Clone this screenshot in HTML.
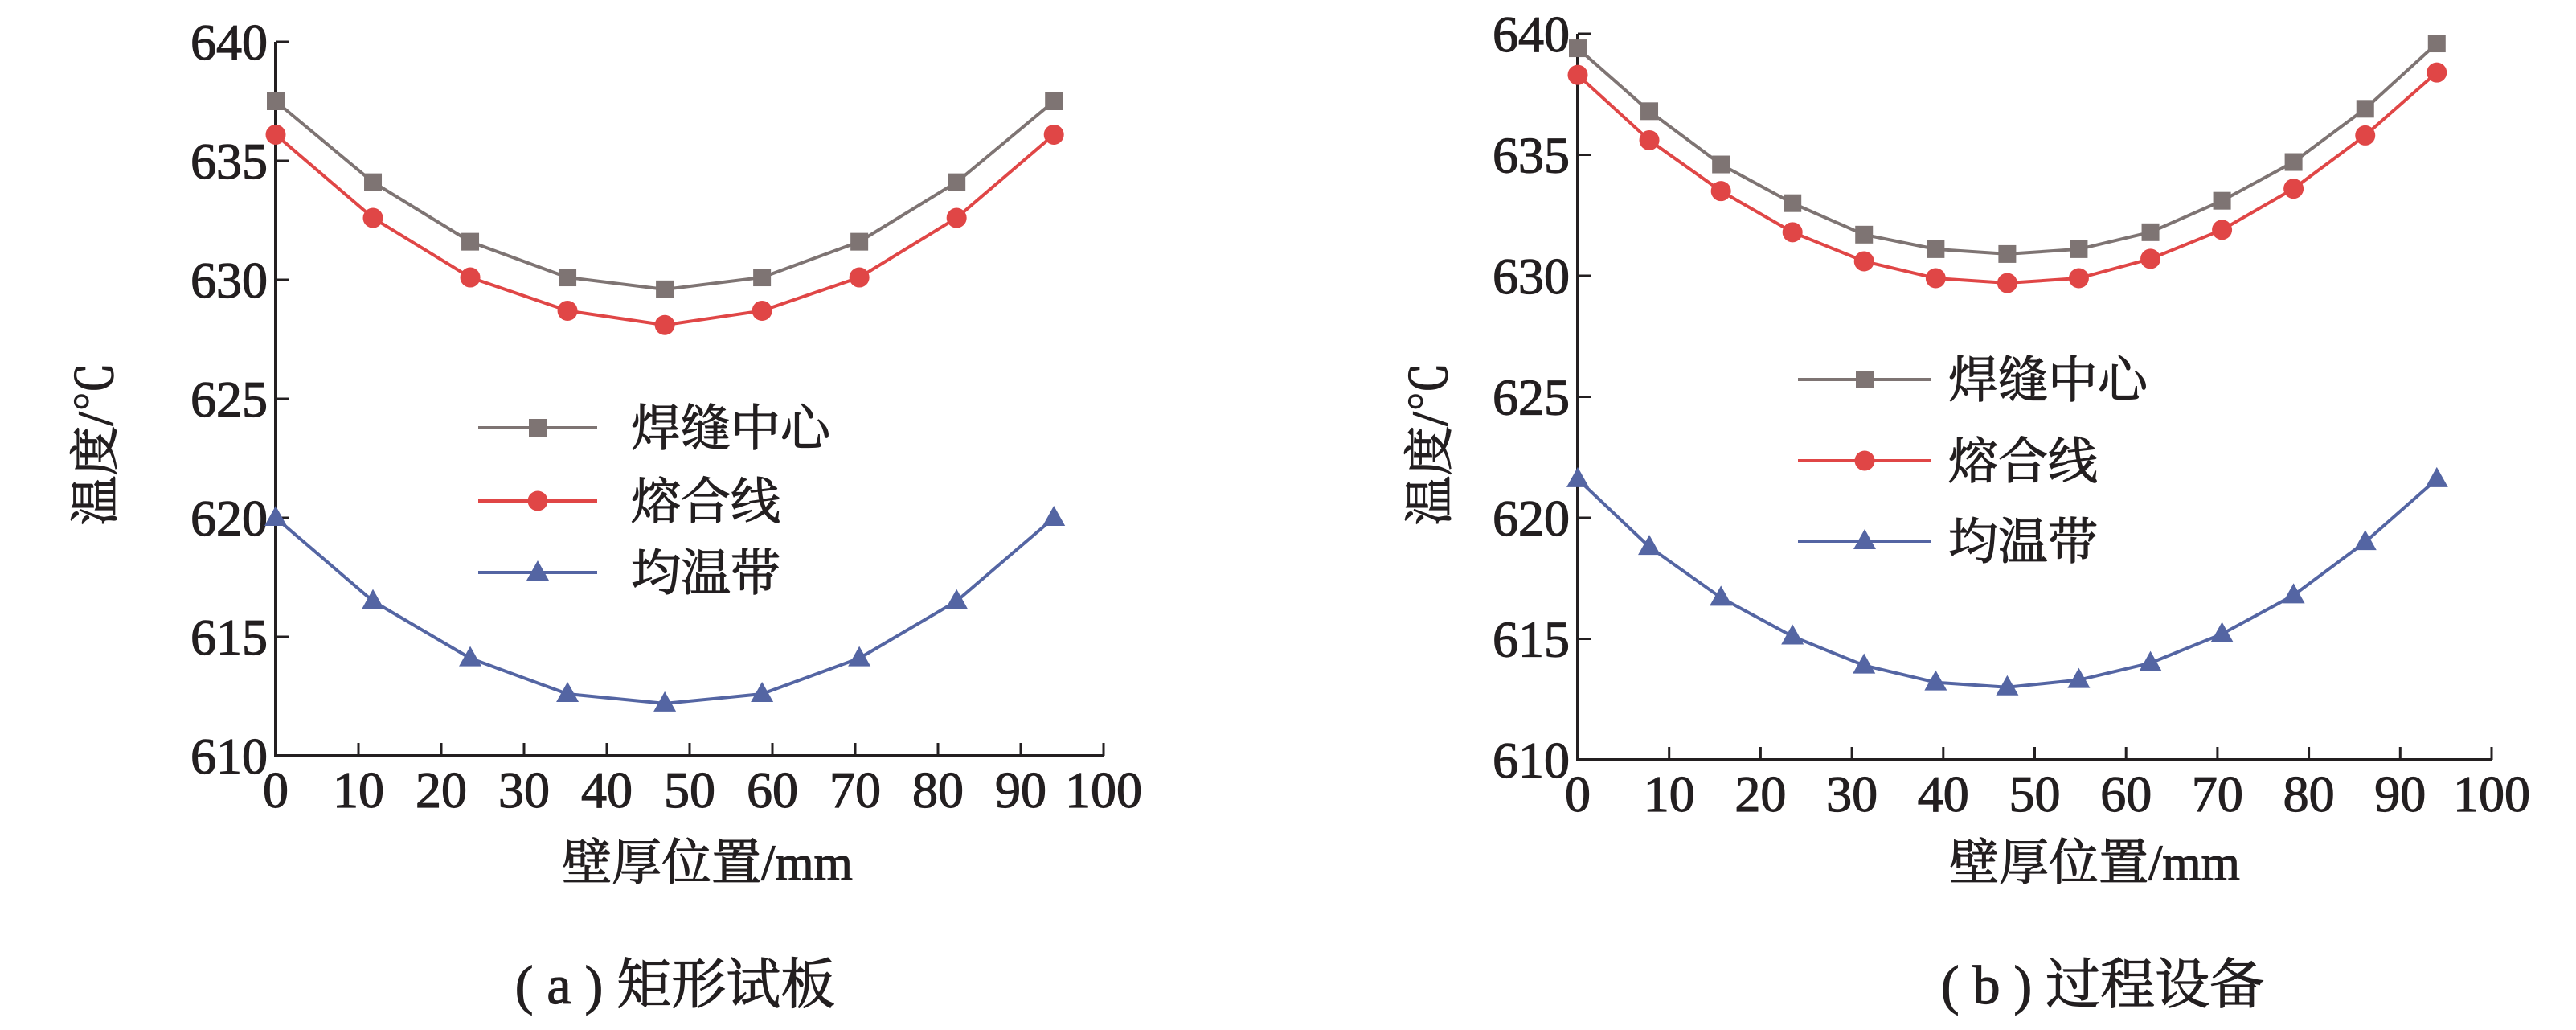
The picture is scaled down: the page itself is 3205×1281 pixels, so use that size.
<!DOCTYPE html>
<html><head><meta charset="utf-8"><style>
html,body{margin:0;padding:0;background:#fff;}
svg{display:block;}
text{font-family:"Liberation Serif","Noto Serif CJK SC",serif;fill:#231f20;stroke:#231f20;stroke-width:1.2;}
</style></head><body>
<svg id="fig" width="3205" height="1281" viewBox="0 0 3205 1281" xmlns="http://www.w3.org/2000/svg"></svg>
<script>
const xTicks=[0,10,20,30,40,50,60,70,80,90,100];
const yTicks=[610,615,620,625,630,635,640];
const seriesNames=["焊缝中心","熔合线","均温带"];
const aX=[0,11.75,23.5,35.25,47,58.75,70.5,82.25,94];
const aWeld=[637.5,634.1,631.6,630.1,629.6,630.1,631.6,634.1,637.5];
const aFusion=[636.1,632.6,630.1,628.7,628.1,628.7,630.1,632.6,636.1];
const aUniform=[620.0,616.5,614.1,612.6,612.2,612.6,614.1,616.5,620.0];
const bX=[0,7.83,15.67,23.5,31.33,39.17,47,54.83,62.67,70.5,78.33,86.17,94];
const bWeld=[639.4,636.8,634.6,633.0,631.7,631.1,630.9,631.1,631.8,633.1,634.7,636.9,639.6];
const bFusion=[638.3,635.6,633.5,631.8,630.6,629.9,629.7,629.9,630.7,631.9,633.6,635.8,638.4];
const bUniform=[621.6,618.8,616.7,615.1,613.9,613.2,613.0,613.3,614.0,615.2,616.8,619.0,621.6];

const NS="http://www.w3.org/2000/svg";
const svg=document.getElementById('fig');
const colors=["#7e7473","#e04646","#5465a3"];
function mk(tag,attrs,parent){const e=document.createElementNS(NS,tag);for(const k in attrs)e.setAttribute(k,attrs[k]);(parent||svg).appendChild(e);return e;}
function marker(g,type,cx,cy,c){
  if(type===0) return mk('rect',{x:cx-11,y:cy-11,width:22,height:22,fill:c},g);
  if(type===1) return mk('circle',{cx:cx,cy:cy,r:12.5,fill:c},g);
  return mk('polygon',{points:`${cx},${cy-15} ${cx-14},${cy+10} ${cx+14},${cy+10}`,fill:c},g);
}
function chart(p){
  const g=mk('g',{});
  
  
  const X=v=>p.x0+(v-0)/100*(p.x1-p.x0);
  const Y=v=>p.y1+(v-610)/30*(p.y0-p.y1);
  const ax=mk('path',{d:`M${p.x0},${p.y0} L${p.x0},${p.y1} L${p.x1},${p.y1}`,stroke:"#231f20","stroke-width":4,fill:"none"},g);
  
  
  xTicks.forEach(t=>{
    mk('line',{x1:X(t),x2:X(t),y1:p.y1,y2:p.y1-16,stroke:"#231f20","stroke-width":3},g);
    const tx=mk('text',{x:X(t),y:p.y1+64,'font-size':64,'text-anchor':'middle'},g);
    tx.textContent=t;
    
    
  });
  yTicks.forEach(t=>{
    mk('line',{x1:p.x0,x2:p.x0+16,y1:Y(t),y2:Y(t),stroke:"#231f20","stroke-width":3},g);
    const tx=mk('text',{x:p.x0-10,y:Y(t)+22,'font-size':64,'text-anchor':'end'},g);
    tx.textContent=t;
    
    
  });
  const xt=mk('text',{x:p.xtx,y:1094,'font-size':62,'text-anchor':'middle'},g);
  xt.textContent="壁厚位置/mm";
  
  
  const yt=mk('text',{x:0,y:0,'font-size':62,'text-anchor':'middle',transform:`translate(${p.ytx},552) rotate(-90)`},g);
  yt.textContent="温度/℃";
  
  
  const cp=mk('text',{x:p.capx,y:1248,'font-size':68,'text-anchor':'middle'},g);
  cp.textContent=p.cap;
  
  
  p.series.forEach((s,i)=>{
    const sg=mk('g',{},g);
    
    
    mk('polyline',{points:p.xs.map((x,j)=>X(x)+','+Y(s[j])).join(' '),fill:'none',stroke:colors[i],'stroke-width':4},sg);
    p.xs.forEach((x,j)=>{const m=marker(sg,i,X(x),Y(s[j]),colors[i]);
      
      });
    const lg=mk('g',{},g);
    
    
    const ly=p.legY[i];
    mk('line',{x1:p.legX0,x2:p.legX1,y1:ly,y2:ly,stroke:colors[i],'stroke-width':4},lg);
    marker(lg,i,(p.legX0+p.legX1)/2,ly,colors[i]);
    const lt=mk('text',{x:p.legTx,y:ly+22,'font-size':62},lg);
    lt.textContent=seriesNames[i];
  });
}
chart({name:'chart-a',x0:343,x1:1373,y0:52,y1:940,xs:aX,series:[aWeld,aFusion,aUniform],
  xtx:880,ytx:140,capx:840,cap:"( a ) 矩形试板",legX0:595,legX1:743,legTx:785,legY:[532,623,712]});
chart({name:'chart-b',x0:1963,x1:3100,y0:42,y1:945,xs:bX,series:[bWeld,bFusion,bUniform],
  xtx:2606,ytx:1800,capx:2616,cap:"( b ) 过程设备",legX0:2237,legX1:2403,legTx:2424,legY:[472,573,673]});
</script>
</body></html>
